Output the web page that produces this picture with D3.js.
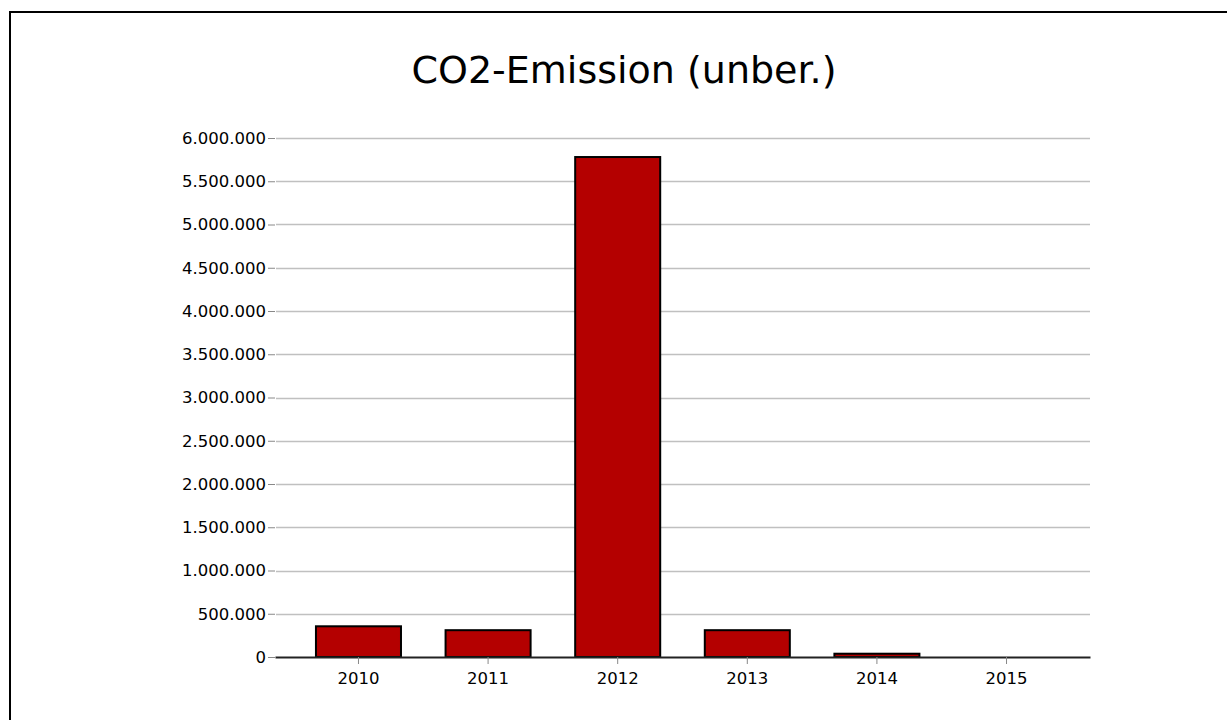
<!DOCTYPE html>
<html>
<head>
<meta charset="utf-8">
<script src="https://cdn.jsdelivr.net/npm/d3@7"></script>
<style>
  body { margin: 0; background: #fff; }
  text { font-family: "DejaVu Sans", sans-serif; }
</style>
</head>
<body>
<div id="chart"></div>
<script>
const years = ["2010", "2011", "2012", "2013", "2014", "2015"];
const emissions = [355000, 310000, 5780000, 310000, 38000, 0];
const yTicks = [0, 500000, 1000000, 1500000, 2000000, 2500000, 3000000,
  3500000, 4000000, 4500000, 5000000, 5500000, 6000000];

const width = 1227, height = 720;
const plot = { LEFT: 275, RIGHT: 1090, TOP: 138, BOTTOM: 657 };

const svg = d3.select("#chart").append("svg")
  .attr("width", width)
  .attr("height", height);

// frame (only left and top are inside the picture)
svg.append("rect")
  .attr("x", 10).attr("y", 12)
  .attr("width", width + 10).attr("height", height + 10)
  .attr("fill", "#fff")
  .attr("stroke", "#000")
  .attr("stroke-width", 2);

// Title
svg.append("text")
  .attr("x", 624)
  .attr("y", 83)
  .attr("text-anchor", "middle")
  .attr("font-size", "38px")
  .attr("fill", "#000")
  .text("CO2-Emission (unber.)");

// Scales
const x = d3.scaleBand()
  .domain(years)
  .range([plot.LEFT, plot.RIGHT])
  .paddingInner(0.344)
  .paddingOuter(0.316);
const y = d3.scaleLinear()
  .domain([0, 6000000])
  .range([plot.BOTTOM, plot.TOP]);

const fmt = d => d3.format(",.0f")(d).replace(/,/g, ".");

// Grid lines
svg.append("g")
  .selectAll("line")
  .data(yTicks.filter(d => d > 0))
  .join("line")
  .attr("x1", plot.LEFT + 1)
  .attr("x2", plot.RIGHT)
  .attr("y1", d => Math.round(y(d)) + 0.5)
  .attr("y2", d => Math.round(y(d)) + 0.5)
  .attr("stroke", "#c0c0c0")
  .attr("stroke-width", 1.5);

// Y Axis
const yAxisCall = d3.axisLeft(y)
  .tickValues(yTicks)
  .tickSize(7)
  .tickPadding(2)
  .tickFormat(fmt);
const yAxis = svg.append("g")
  .attr("transform", `translate(${plot.LEFT}, 0)`)
  .call(yAxisCall);
yAxis.select(".domain").remove();
yAxis.selectAll(".tick line").attr("stroke", "#888");
yAxis.selectAll(".tick text")
  .attr("font-size", "16.5px")
  .attr("fill", "#000")
  .style("font-family", "DejaVu Sans, sans-serif");

// Bars
svg.append("g")
  .selectAll("rect")
  .data(years.map((yr, i) => ({ year: yr, value: emissions[i] })))
  .join("rect")
  .attr("x", d => x(d.year))
  .attr("y", d => y(d.value))
  .attr("width", x.bandwidth())
  .attr("height", d => y(0) - y(d.value))
  .attr("fill", "#b40000")
  .attr("stroke", "#000")
  .attr("stroke-width", d => d.value > 0 ? 2 : 0);

// X Axis
const xAxisCall = d3.axisBottom(x)
  .tickSize(7)
  .tickSizeOuter(0)
  .tickPadding(8);
const xAxis = svg.append("g")
  .attr("transform", `translate(0, ${plot.BOTTOM})`)
  .call(xAxisCall);
xAxis.select(".domain")
  .attr("stroke", "#222")
  .attr("stroke-width", 2);
xAxis.selectAll(".tick line").attr("stroke", "#888");
xAxis.selectAll(".tick text")
  .attr("font-size", "16.5px")
  .attr("fill", "#000")
  .style("font-family", "DejaVu Sans, sans-serif");
</script>
</body>
</html>
